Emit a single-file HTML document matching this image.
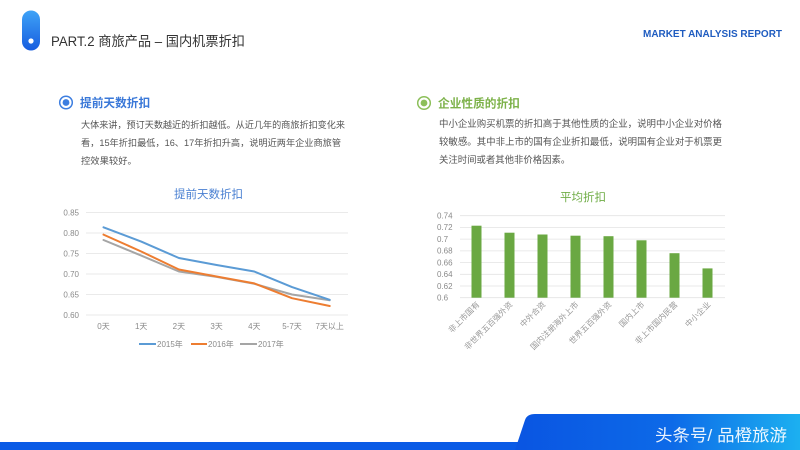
<!DOCTYPE html>
<html><head><meta charset="utf-8">
<style>
html,body{margin:0;padding:0;background:#fff;}
svg{display:block;}
text{font-family:"Liberation Sans","Noto Sans CJK SC",sans-serif;}
</style></head>
<body>
<svg width="800" height="450" viewBox="0 0 800 450" xmlns="http://www.w3.org/2000/svg">
<defs>
<linearGradient id="pill" x1="0" y1="0" x2="0" y2="1">
<stop offset="0" stop-color="#3fa3f7"/><stop offset="1" stop-color="#175ddf"/>
</linearGradient>
<linearGradient id="band" x1="0" y1="0" x2="1" y2="0">
<stop offset="0" stop-color="#0a55e2"/><stop offset="0.55" stop-color="#0d6ae8"/><stop offset="1" stop-color="#1cb0f0"/>
</linearGradient>
</defs>
<rect width="800" height="450" fill="#fff"/>

<!-- header -->
<rect x="22" y="10.5" width="18" height="40" rx="9" fill="url(#pill)"/>
<circle cx="31" cy="41" r="2.6" fill="#fff"/>
<text x="51" y="46" font-size="13.5" fill="#333" textLength="194" lengthAdjust="spacingAndGlyphs">PART.2 商旅产品 – 国内机票折扣</text>
<text x="643" y="37" font-size="10" font-weight="bold" fill="#1f5cc0" textLength="139" lengthAdjust="spacingAndGlyphs">MARKET ANALYSIS REPORT</text>

<!-- left section -->
<circle cx="66" cy="102.5" r="6.3" fill="none" stroke="#3d7ee0" stroke-width="1.5"/>
<circle cx="66" cy="102.5" r="3.4" fill="#3d7ee0"/>
<text x="80" y="107" font-size="11.7" font-weight="bold" fill="#3a78d8">提前天数折扣</text>
<g font-size="9.3" fill="#555">
<text x="81" y="128" textLength="264" lengthAdjust="spacingAndGlyphs">大体来讲，预订天数越近的折扣越低。从近几年的商旅折扣变化来</text>
<text x="81" y="146" textLength="260" lengthAdjust="spacingAndGlyphs">看，15年折扣最低，16、17年折扣升高，说明近两年企业商旅管</text>
<text x="81" y="164">控效果较好。</text>
</g>

<!-- right section -->
<circle cx="424" cy="103" r="6.3" fill="none" stroke="#8cbf5a" stroke-width="1.5"/>
<circle cx="424" cy="103" r="3.4" fill="#8cbf5a"/>
<text x="438" y="107.5" font-size="11.7" font-weight="bold" fill="#7db24a">企业性质的折扣</text>
<g font-size="9.4" fill="#555">
<text x="439" y="127" textLength="283" lengthAdjust="spacingAndGlyphs">中小企业购买机票的折扣高于其他性质的企业，说明中小企业对价格</text>
<text x="439" y="145" textLength="283" lengthAdjust="spacingAndGlyphs">较敏感。其中非上市的国有企业折扣最低，说明国有企业对于机票更</text>
<text x="439" y="163">关注时间或者其他非价格因素。</text>
</g>

<!-- line chart -->
<text x="208.5" y="198" font-size="11.5" fill="#4a80d2" text-anchor="middle">提前天数折扣</text>
<g stroke="#e3e3e3" stroke-width="0.8">
<line x1="86" y1="212.5" x2="348" y2="212.5"/>
<line x1="86" y1="233" x2="348" y2="233"/>
<line x1="86" y1="253.5" x2="348" y2="253.5"/>
<line x1="86" y1="274" x2="348" y2="274"/>
<line x1="86" y1="294.5" x2="348" y2="294.5"/>
<line x1="86" y1="315" x2="348" y2="315"/>
</g>
<g font-size="8" fill="#8a8a8a" text-anchor="end">
<text x="79" y="215.5">0.85</text>
<text x="79" y="236">0.80</text>
<text x="79" y="256.5">0.75</text>
<text x="79" y="277">0.70</text>
<text x="79" y="297.5">0.65</text>
<text x="79" y="318">0.60</text>
</g>
<g font-size="8" fill="#8a8a8a" text-anchor="middle">
<text x="103.5" y="329">0天</text>
<text x="141.2" y="329">1天</text>
<text x="178.9" y="329">2天</text>
<text x="216.6" y="329">3天</text>
<text x="254.3" y="329">4天</text>
<text x="292" y="329">5-7天</text>
<text x="329.7" y="329">7天以上</text>
</g>
<g fill="none" stroke-width="2" stroke-linejoin="round" stroke-linecap="round">
<polyline stroke="#a5a5a5" points="103.5,240 141.2,255.6 178.9,271.5 216.6,276.9 254.3,283.8 292,294.5 329.7,300.2"/>
<polyline stroke="#ed7d31" points="103.5,234.6 141.2,251.5 178.9,269.5 216.6,276.5 254.3,283.4 292,298.2 329.7,306"/>
<polyline stroke="#5b9bd5" points="103.5,227.3 141.2,241.6 178.9,258 216.6,265 254.3,271.5 292,287.1 329.7,299.8"/>
</g>
<g font-size="8" fill="#8a8a8a">
<line x1="139" y1="344" x2="156" y2="344" stroke="#5b9bd5" stroke-width="2"/>
<text x="157" y="347">2015年</text>
<line x1="191" y1="344" x2="207" y2="344" stroke="#ed7d31" stroke-width="2"/>
<text x="208" y="347">2016年</text>
<line x1="240" y1="344" x2="257" y2="344" stroke="#a5a5a5" stroke-width="2"/>
<text x="258" y="347">2017年</text>
</g>

<!-- bar chart -->
<text x="583" y="201" font-size="11.5" fill="#70ad47" text-anchor="middle">平均折扣</text>
<g stroke="#e3e3e3" stroke-width="0.8">
<line x1="460" y1="215.7" x2="725" y2="215.7"/>
<line x1="460" y1="227.4" x2="725" y2="227.4"/>
<line x1="460" y1="239.1" x2="725" y2="239.1"/>
<line x1="460" y1="250.9" x2="725" y2="250.9"/>
<line x1="460" y1="262.6" x2="725" y2="262.6"/>
<line x1="460" y1="274.3" x2="725" y2="274.3"/>
<line x1="460" y1="286" x2="725" y2="286"/>
<line x1="460" y1="297.7" x2="725" y2="297.7"/>
</g>
<g font-size="8" fill="#8a8a8a">
<text x="437" y="218.5">0.74</text>
<text x="437" y="230.2">0.72</text>
<text x="437" y="241.9">0.7</text>
<text x="437" y="253.7">0.68</text>
<text x="437" y="265.4">0.66</text>
<text x="437" y="277.1">0.64</text>
<text x="437" y="288.8">0.62</text>
<text x="437" y="300.5">0.6</text>
</g>
<g fill="#6aa842">
<rect x="471.5" y="225.7" width="10" height="72"/>
<rect x="504.5" y="232.7" width="10" height="65"/>
<rect x="537.5" y="234.5" width="10" height="63.2"/>
<rect x="570.5" y="235.7" width="10" height="62"/>
<rect x="603.5" y="236.2" width="10" height="61.5"/>
<rect x="636.5" y="240.3" width="10" height="57.4"/>
<rect x="669.5" y="253.2" width="10" height="44.5"/>
<rect x="702.5" y="268.4" width="10" height="29.3"/>
</g>
<g font-size="8" fill="#999" text-anchor="end">
<text transform="translate(480,305) rotate(-45)">非上市国有</text>
<text transform="translate(513,305) rotate(-45)">非世界五百强外资</text>
<text transform="translate(546,305) rotate(-45)">中外合资</text>
<text transform="translate(579,305) rotate(-45)">国内注册海外上市</text>
<text transform="translate(612,305) rotate(-45)">世界五百强外资</text>
<text transform="translate(645,305) rotate(-45)">国内上市</text>
<text transform="translate(678,305) rotate(-45)">非上市国内民营</text>
<text transform="translate(711,305) rotate(-45)">中小企业</text>
</g>

<!-- bottom band -->
<rect x="0" y="442" width="800" height="8" fill="#0a5be6"/>
<path d="M515,450 L525,420 Q527,414 535,414 L800,414 L800,450 Z" fill="url(#band)"/>
<text x="655" y="441" font-size="16.5" fill="#fff" fill-opacity="0.92" textLength="132" lengthAdjust="spacingAndGlyphs">头条号/ 品橙旅游</text>
</svg>
</body></html>
